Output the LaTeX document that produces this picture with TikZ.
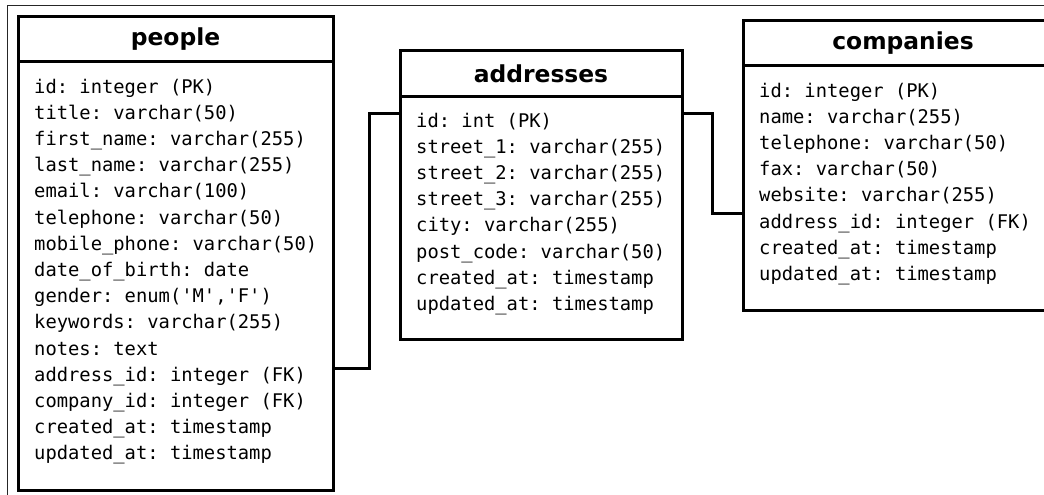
\documentclass[tikz,border=0pt]{standalone}
\usepackage{fontspec}
\setmonofont{DejaVu Sans Mono}
\setsansfont{DejaVu Sans}
\usetikzlibrary{positioning}

\newcommand{\q}{\textquotesingle}

\begin{document}
\begin{tikzpicture}[x=1pt,y=-1pt,
    table/.style={draw,line width=3pt,outer sep=0pt,inner sep=0pt},
    tablehead/.style={table,minimum height=45pt,font=\sffamily\bfseries\fontsize{23.4}{28}\selectfont},
    fields/.style={inner sep=0pt,anchor=base west,font=\ttfamily\fontsize{18.8}{26.2}\selectfont},
    link/.style={line width=3pt}]

  \clip (0,0) rectangle (1044,495);
  \draw[line width=1pt,black!85] (7,500) |- (1050,6);

  \node[tablehead,minimum width=315pt,anchor=north west] (people) at (18,17) {people};
  \node[table,minimum width=315pt,minimum height=428pt,below=0pt of people] (pbody) {};
  \node[fields] (pfields) at ([xshift=16pt,yshift=-31pt]pbody.north west) {\begin{tabular}[t]{@{}l@{}}
    id: integer (PK)\\
    title: varchar(50)\\
    first\_name: varchar(255)\\
    last\_name: varchar(255)\\
    email: varchar(100)\\
    telephone: varchar(50)\\
    mobile\_phone: varchar(50)\\
    date\_of\_birth: date\\
    gender: enum(\q M\q,\q F\q)\\
    keywords: varchar(255)\\
    notes: text\\
    address\_id: integer (FK)\\
    company\_id: integer (FK)\\
    created\_at: timestamp\\
    updated\_at: timestamp
  \end{tabular}};

  \node[tablehead,minimum width=282pt,anchor=north west] (addresses) at (400,51) {addresses};
  \node[table,minimum width=282pt,minimum height=243pt,below=0pt of addresses] (abody) {};
  \node[fields] (afields) at ([xshift=16pt,yshift=-31pt]abody.north west) {\begin{tabular}[t]{@{}l@{}}
    id: int (PK)\\
    street\_1: varchar(255)\\
    street\_2: varchar(255)\\
    street\_3: varchar(255)\\
    city: varchar(255)\\
    post\_code: varchar(50)\\
    created\_at: timestamp\\
    updated\_at: timestamp
  \end{tabular}};

  \node[tablehead,minimum width=320pt,anchor=north west] (companies) at (743,21) {companies};
  \node[table,minimum width=320pt,minimum height=244pt,below=0pt of companies] (cbody) {};
  \node[fields] (cfields) at ([xshift=16pt,yshift=-31pt]cbody.north west) {\begin{tabular}[t]{@{}l@{}}
    id: integer (PK)\\
    name: varchar(255)\\
    telephone: varchar(50)\\
    fax: varchar(50)\\
    website: varchar(255)\\
    address\_id: integer (FK)\\
    created\_at: timestamp\\
    updated\_at: timestamp
  \end{tabular}};

  \coordinate (p-addr) at ([yshift=-306pt]pbody.north east);
  \coordinate (a-in) at ([yshift=-17pt]abody.north west);
  \coordinate (a-out) at ([yshift=-17pt]abody.north east);
  \coordinate (c-addr) at ([yshift=-147pt]cbody.north west);

  \draw[link] (p-addr) -- ++(36,0) |- (a-in);
  \draw[link] (a-out) -- ++(30,0) |- (c-addr);
\end{tikzpicture}
\end{document}
